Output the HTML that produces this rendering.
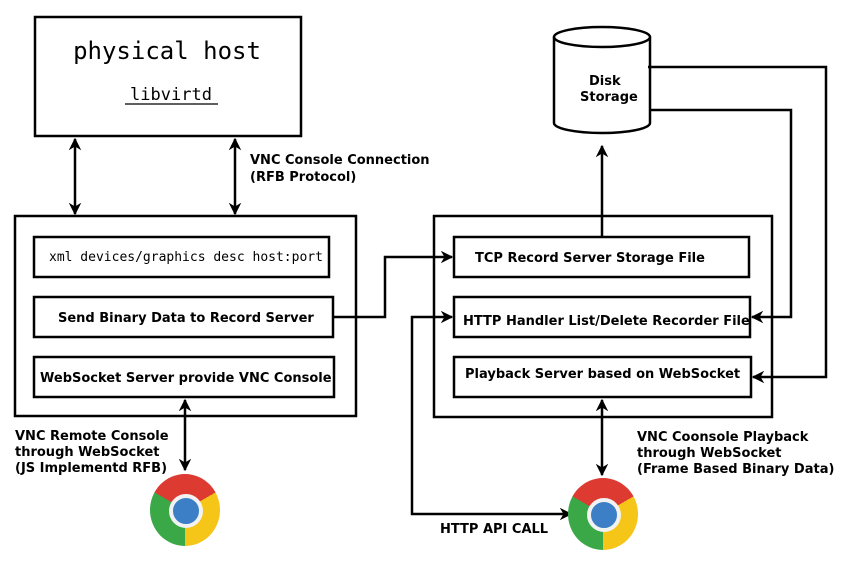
<!DOCTYPE html>
<html><head><style>
html,body{margin:0;padding:0;background:#fff;width:867px;height:577px;overflow:hidden;position:relative}
svg{position:absolute;left:0;top:0}
.chrome{position:absolute;width:70px;height:72px;border-radius:50%;background:conic-gradient(from -60deg,#dd3a31 0 120deg,#f5c518 120deg 240deg,#3ba847 240deg 360deg)}
.chrome::after{content:"";position:absolute;left:19px;top:20px;width:26px;height:26px;border-radius:50%;background:#3c7fc6;border:4px solid #f2f2f2}
</style></head><body>
<svg width="867" height="577" font-family="'DejaVu Sans','Liberation Sans',sans-serif" font-weight="bold" font-size="13">
<defs><marker id="a" viewBox="0 0 10 10" refX="9" refY="5" markerWidth="5" markerHeight="5" orient="auto-start-reverse"><path d="M0,0 L10,5 L0,10 L3,5 z" fill="#000"/></marker></defs>
<g fill="none" stroke="#000" stroke-width="2.5">
<rect x="35" y="17" width="266" height="119"/>
<rect x="15" y="216" width="341" height="200"/>
<rect x="34" y="237" width="295" height="40"/>
<rect x="34" y="297" width="299" height="40"/>
<rect x="34" y="357" width="300" height="40"/>
<rect x="434" y="216" width="338" height="201"/>
<rect x="454" y="237" width="295" height="40"/>
<rect x="454" y="297" width="296" height="40"/>
<rect x="454" y="357" width="297" height="40"/>
<path d="M554,37 L554,123 A48,10 0 0 0 650,123 L650,37"/>
<ellipse cx="602" cy="37" rx="48" ry="10"/>
<line x1="75" y1="139" x2="75" y2="214" marker-start="url(#a)" marker-end="url(#a)"/>
<line x1="235" y1="139" x2="235" y2="214" marker-start="url(#a)" marker-end="url(#a)"/>
<line x1="185" y1="400" x2="185" y2="470" marker-start="url(#a)" marker-end="url(#a)"/>
<line x1="602" y1="400" x2="602" y2="475" marker-start="url(#a)" marker-end="url(#a)"/>
<line x1="602" y1="236" x2="602" y2="146" marker-end="url(#a)"/>
<path d="M333,317 H385 V257 H452" marker-end="url(#a)"/>
<path d="M648,67 H826 V377 H753" marker-end="url(#a)"/>
<path d="M650,110 H791 V317 H752" marker-end="url(#a)"/>
<path d="M452,317 H412 V514 H571" marker-start="url(#a)" marker-end="url(#a)"/>
</g>
<text x="167" y="59" font-family="'DejaVu Sans Mono','Liberation Mono',monospace" font-size="24" font-weight="normal" text-anchor="middle">physical host</text>
<text x="171" y="100" font-family="'DejaVu Sans Mono','Liberation Mono',monospace" font-size="17" font-weight="normal" text-anchor="middle">libvirtd</text>
<line x1="125" y1="104" x2="218" y2="104" stroke="#000" stroke-width="1.2"/>
<text x="250" y="164">VNC Console Connection</text>
<text x="250" y="181">(RFB Protocol)</text>
<text x="49" y="261" font-family="'DejaVu Sans Mono','Liberation Mono',monospace" font-weight="normal" font-size="13">xml devices/graphics desc host:port</text>
<text x="58" y="322">Send Binary Data to Record Server</text>
<text x="40" y="382">WebSocket Server provide VNC Console</text>
<text x="475" y="262">TCP Record Server Storage File</text>
<text x="463" y="325">HTTP Handler List/Delete Recorder File</text>
<text x="465" y="378">Playback Server based on WebSocket</text>
<text x="589" y="85">Disk</text>
<text x="580" y="101">Storage</text>
<text x="15" y="440">VNC Remote Console</text>
<text x="15" y="456">through WebSocket</text>
<text x="15" y="472">(JS Implementd RFB)</text>
<text x="637" y="441">VNC Coonsole Playback</text>
<text x="637" y="457">through WebSocket</text>
<text x="637" y="473">(Frame Based Binary Data)</text>
<text x="440" y="533">HTTP API CALL</text>
</svg>
<div class="chrome" style="left:150px;top:474px"></div>
<div class="chrome" style="left:568px;top:478px"></div>
</body></html>
